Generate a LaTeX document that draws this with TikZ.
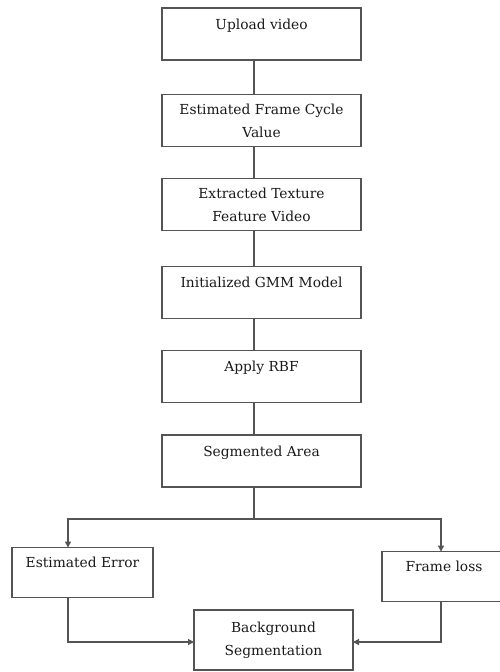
\documentclass[tikz,border=0pt]{standalone}
\usepackage{fontspec}
\setmainfont{DejaVu Serif}
\usetikzlibrary{arrows.meta}
\definecolor{boxline}{gray}{0.33}
\definecolor{txt}{gray}{0.1}
\newcommand{\toprule}{\rule{0pt}{20pt}}
\begin{document}
\begin{tikzpicture}[x=1pt,y=-1pt,
  box/.style={draw=boxline,line width=1.2pt,rectangle,outer sep=0pt,inner sep=0pt,
    align=center,text=txt,font=\fontsize{13.8}{23}\selectfont},
  mainbox/.style={box,minimum width=199pt,minimum height=52pt},
  conn/.style={draw=boxline,line width=1.2pt},
  arr/.style={conn,-{Triangle[length=6pt,width=6pt]}}]
\useasboundingbox (0,0) rectangle (499,672);
\node[mainbox] (up)  at (261.5,34)  {\toprule Upload video\\\strut};
\node[mainbox] (efc) at (261.5,120.5) {Estimated Frame Cycle\\Value};
\node[mainbox] (etf) at (261.5,204.5) {Extracted Texture\\Feature Video};
\node[mainbox] (gmm) at (261.5,292.5) {\toprule Initialized GMM Model\\\strut};
\node[mainbox] (rbf) at (261.5,376.5) {\toprule Apply RBF\\\strut};
\node[mainbox] (seg) at (261.5,461)   {\toprule Segmented Area\\\strut};
\node[box,minimum width=141pt,minimum height=47pt] (err) at (82.5,572.5) {\toprule Estimated Error\\\strut};
\node[box,minimum width=140pt,minimum height=47pt] (fl)  at (452,576.5) {\hspace*{-16pt}\toprule Frame loss\\\strut};
\node[box,minimum width=159pt,minimum height=60pt] (bg)  at (273.5,640) {Background\\Segmentation};
\coordinate (spine) at (254,0);
\coordinate (split) at (254,519);
\coordinate (lx) at (68,0);
\coordinate (rx) at (441,0);
\coordinate (join) at (0,642);
\draw[conn] (up.south -| spine) -- (efc.north -| spine);
\draw[conn] (efc.south -| spine) -- (etf.north -| spine);
\draw[conn] (etf.south -| spine) -- (gmm.north -| spine);
\draw[conn] (gmm.south -| spine) -- (rbf.north -| spine);
\draw[conn] (rbf.south -| spine) -- (seg.north -| spine);
\draw[conn] (seg.south -| spine) -- (split);
\draw[arr] (split) -| (err.north -| lx);
\draw[arr] (split) -| (fl.north -| rx);
\draw[arr] (err.south -| lx) |- (bg.west |- join);
\draw[arr] (fl.south -| rx) |- (bg.east |- join);
\end{tikzpicture}
\end{document}
